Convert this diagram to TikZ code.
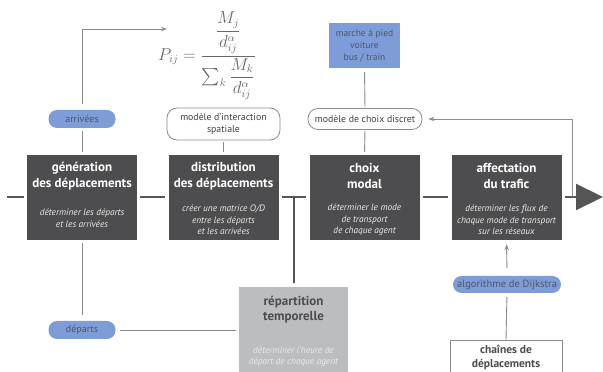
\documentclass[tikz,border=0pt]{standalone}
\usepackage{amsmath}
\usepackage{fontspec}
\setmainfont{PT Sans}
\usetikzlibrary{arrows.meta,positioning}

\definecolor{boxdark}{RGB}{77,77,79}
\definecolor{boxlight}{RGB}{188,189,192}
\definecolor{pillblue}{RGB}{125,156,216}
\definecolor{pilltext}{RGB}{80,86,100}
\definecolor{linegray}{RGB}{140,140,140}
\definecolor{flowdark}{RGB}{85,85,85}
\definecolor{formgray}{RGB}{105,105,105}

\tikzset{
  mainbox/.style={fill=boxdark, minimum width=110pt, minimum height=85pt, inner sep=0pt},
  head/.style={font=\fontsize{13}{15.5}\selectfont\bfseries, text=white, align=center},
  desc/.style={font=\fontsize{9.3}{11.5}\selectfont\itshape, text=white!92!black, align=center},
  pill/.style={fill=pillblue, rounded corners=8.5pt, minimum width=67pt, minimum height=18pt,
    inner sep=2pt, font=\fontsize{10}{11}\selectfont, text=pilltext},
  modelbox/.style={draw=linegray, fill=white, line width=0.8pt, rounded corners=10pt, align=center,
    inner sep=2pt, font=\fontsize{9.8}{12}\selectfont, text=black!75},
  link/.style={draw=linegray, line width=0.9pt},
  flow/.style={draw=flowdark, line width=2.2pt}
}

\begin{document}
\begin{tikzpicture}[x=1pt, y=1pt]
  \clip (0,0) rectangle (603,372);

  % main steps
  \node[mainbox] (gen) at (82,174.5) {};
  \node[mainbox] (dist) at (223.5,174.5) {};
  \node[mainbox] (modal) at (364.5,174.5) {};
  \node[mainbox] (affect) at (506.5,174.5) {};

  \node[head] at (82,196) {génération\\des déplacements};
  \node[desc] at (82,154) {déterminer les départs\\et les arrivées};
  \node[head] at (223.5,196) {distribution\\des déplacements};
  \node[desc] at (223.5,152) {créer une matrice O/D\\entre les départs\\et les arrivées};
  \node[head] at (364.5,196) {choix\\modal};
  \node[desc] at (364.5,152) {déterminer le mode\\de transport\\de chaque agent};
  \node[head] at (506.5,196) {affectation\\du trafic};
  \node[desc] at (506.5,152) {déterminer les flux de\\chaque mode de transport\\sur les réseaux};

  % side steps
  \node[fill=boxlight, minimum width=109pt, minimum height=95pt, anchor=north] (rep) at (293.5,85) {};
  \node[head, text=boxdark] at (293.5,62.5) {répartition\\temporelle};
  \node[desc] at (293.5,15.5) {déterminer l'heure de\\départ de chaque agent};

  \node[draw=linegray, line width=0.8pt, fill=white, minimum width=112pt, minimum height=45pt, anchor=north] (chain) at (506,32) {};
  \node[head, text=boxdark, font=\fontsize{11.5}{14.5}\selectfont\bfseries] at (506,14.5) {chaînes de\\déplacements};

  % labels
  \node[pill] (arr) at (82,253) {arrivées};
  \node[pill] (dep) at (82,42) {départs};
  \node[pill, minimum width=108pt, minimum height=17pt, font=\fontsize{10.5}{11}\selectfont] (dijk) at (507,87.5) {algorithme de Dijkstra};
  \node[modelbox, minimum width=113pt, minimum height=32pt] (interac) at (223.5,248) {modèle d'interaction\\spatiale};
  \node[modelbox, minimum width=114pt, minimum height=21pt] (choixd) at (365,253) {modèle de choix discret};
  \node[fill=pillblue, minimum width=71pt, minimum height=45pt, align=center, inner sep=1pt,
    font=\fontsize{9.5}{12}\selectfont, text=pilltext] (modes) at (364.5,326.5) {marche à pied\\voiture\\bus / train};

  \node[text=formgray, font=\fontsize{16}{18}\selectfont] (pij) at (207,316)
    {$P_{ij} = \dfrac{\dfrac{M_j}{d_{ij}^{\alpha}}}{\textstyle\sum_k \dfrac{M_k}{d_{ij}^{\alpha}}}$};

  % flow line
  \coordinate (start) at (7,175);
  \coordinate (tip) at (603,175);
  \coordinate (junc) at (294,175);
  \draw[flow, shorten >=3pt] (start) -- (gen.west |- start);
  \draw[flow, shorten <=3pt, shorten >=3pt] (gen.east |- start) -- (dist.west |- start);
  \draw[flow, shorten <=3pt, shorten >=3pt] (dist.east |- start) -- (modal.west |- start);
  \draw[flow, shorten <=3pt, shorten >=3pt] (modal.east |- start) -- (affect.west |- start);
  \draw[flow, -{Triangle[length=27pt, width=26pt]}, shorten <=3pt] (affect.east |- start) -- (tip);
  \draw[flow, shorten >=4pt] (junc) -- (junc |- rep.north);

  % links
  \coordinate (corner) at (82,343);
  \coordinate (fend) at (167,343);
  \draw[link, -{Stealth[length=6pt, width=4.5pt]}, shorten <=6pt] (arr.north) -- (corner) -- (fend);
  \draw[link, shorten <=3pt, shorten >=3pt] (arr.south) -- (gen.north);
  \draw[link, shorten <=3pt, shorten >=6pt] (gen.south) -- (dep.north);
  \draw[link, shorten <=4pt, shorten >=3pt] (dep.east) -- (rep.west |- dep.east);
  \draw[link, shorten <=2pt, shorten >=3pt] (interac.south) -- (dist.north);
  \draw[link, shorten <=4pt, shorten >=1pt] (modes.south) -- (choixd.north);
  \draw[link, shorten <=1pt, shorten >=3pt] (choixd.south) -- (modal.north);
  \coordinate (fb) at (572,175);
  \draw[link, -{Stealth[length=6pt, width=4.5pt]}, shorten >=6pt] (fb) -- (fb |- choixd.east) -- (choixd.east);
  \draw[link, -{Stealth[length=6pt, width=4.5pt]}, shorten <=8pt, shorten >=4pt] (dijk.north) -- (affect.south);
  \draw[link, shorten <=4pt] (dijk.south) -- (chain.north);
\end{tikzpicture}
\end{document}
